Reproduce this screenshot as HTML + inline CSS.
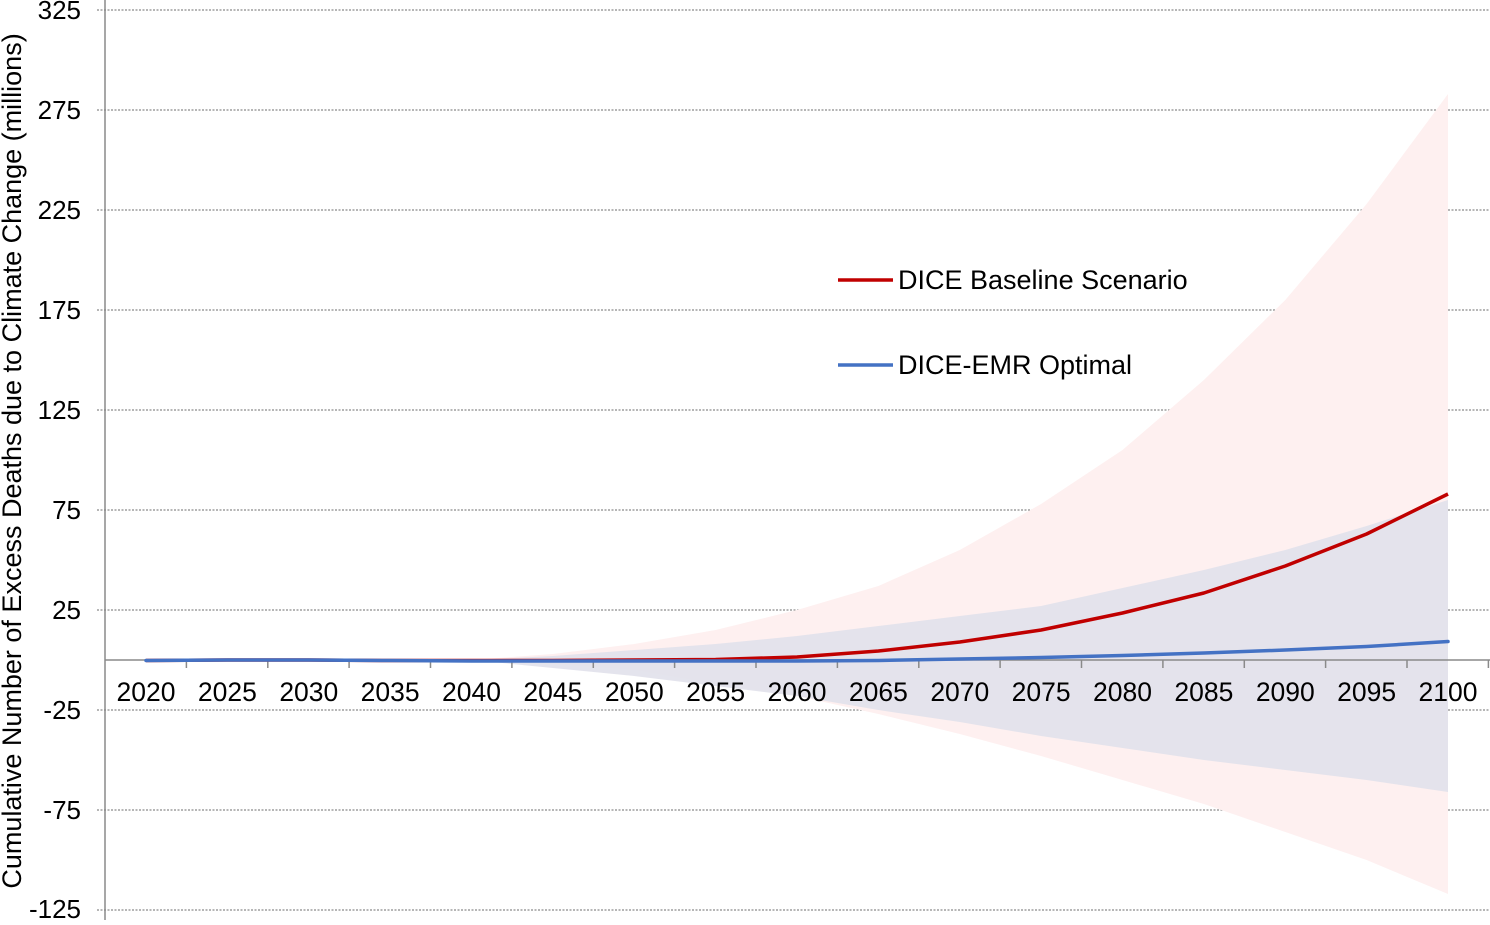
<!DOCTYPE html>
<html><head><meta charset="utf-8"><style>body{margin:0;background:#fff}</style></head>
<body>
<svg width="1490" height="920" xmlns="http://www.w3.org/2000/svg" font-family="Liberation Sans, Arial, sans-serif">
<rect width="1490" height="920" fill="#fff"/>
<g stroke="#8a8a8a" stroke-width="1.2" stroke-dasharray="2,1.5">
<line x1="97" y1="10" x2="1490" y2="10"/><line x1="97" y1="110" x2="1490" y2="110"/>
<line x1="97" y1="210" x2="1490" y2="210"/><line x1="97" y1="310" x2="1490" y2="310"/>
<line x1="97" y1="410" x2="1490" y2="410"/><line x1="97" y1="510" x2="1490" y2="510"/>
<line x1="97" y1="610" x2="1490" y2="610"/><line x1="97" y1="710" x2="1490" y2="710"/>
<line x1="97" y1="810" x2="1490" y2="810"/><line x1="97" y1="910" x2="1490" y2="910"/>
</g>
<polygon fill="#fef0f0" points="471.5,660 552.9,654 634.3,644 715.6,630 797,610 878.4,586 959.8,550 1041.1,504 1122.5,450 1203.9,380 1285.3,300 1366.6,204 1448,94 1448,894 1366.6,860 1285.3,832 1203.9,804 1122.5,780 1041.1,756 959.8,734 878.4,714 797,696 715.6,684 634.3,670 552.9,664"/>
<polygon fill="#e2e2ec" fill-opacity="0.92" points="471.5,660 552.9,656 634.3,650 715.6,644 797,636 878.4,626 959.8,616 1041.1,606 1122.5,588 1203.9,570 1285.3,550 1366.6,526 1448,500 1448,792 1366.6,780 1285.3,770 1203.9,760 1122.5,748 1041.1,736 959.8,722 878.4,710 797,696 715.6,686 634.3,676 552.9,668"/>
<line x1="105" y1="0" x2="105" y2="920" stroke="#8a8a8a" stroke-width="1.5"/>
<line x1="105" y1="660" x2="1490" y2="660" stroke="#8a8a8a" stroke-width="1.5"/>
<g stroke="#8a8a8a" stroke-width="1.5">
<line x1="186.4" y1="660" x2="186.4" y2="668"/><line x1="267.8" y1="660" x2="267.8" y2="668"/><line x1="349.1" y1="660" x2="349.1" y2="668"/><line x1="430.5" y1="660" x2="430.5" y2="668"/><line x1="511.9" y1="660" x2="511.9" y2="668"/><line x1="593.3" y1="660" x2="593.3" y2="668"/><line x1="674.6" y1="660" x2="674.6" y2="668"/><line x1="756" y1="660" x2="756" y2="668"/><line x1="837.4" y1="660" x2="837.4" y2="668"/><line x1="918.8" y1="660" x2="918.8" y2="668"/><line x1="1000.1" y1="660" x2="1000.1" y2="668"/><line x1="1081.5" y1="660" x2="1081.5" y2="668"/><line x1="1162.9" y1="660" x2="1162.9" y2="668"/><line x1="1244.3" y1="660" x2="1244.3" y2="668"/><line x1="1325.6" y1="660" x2="1325.6" y2="668"/><line x1="1407" y1="660" x2="1407" y2="668"/><line x1="1488.4" y1="660" x2="1488.4" y2="668"/>
</g>
<polyline fill="none" stroke="#c00000" stroke-width="3.5" stroke-linejoin="round" points="146,660.5 227.4,660 308.8,660 390.1,660.5 471.5,660.5 552.9,660.5 634.3,660 715.6,659.5 797,657 878.4,651 959.8,642 1041.1,630 1122.5,613 1203.9,593 1285.3,566 1366.6,534 1448,494"/>
<polyline fill="none" stroke="#4472c4" stroke-width="3.5" stroke-linejoin="round" stroke-linecap="round" points="146,660.5 227.4,660 308.8,660 390.1,660.5 471.5,661 552.9,661 634.3,661 715.6,661 797,661 878.4,660.5 959.8,659 1041.1,657.5 1122.5,655.5 1203.9,653 1285.3,650 1366.6,646.5 1448,641.5"/>
<g font-size="26" fill="#000" text-anchor="end">
<text x="81" y="19">325</text><text x="81" y="119">275</text><text x="81" y="219">225</text><text x="81" y="319">175</text><text x="81" y="419">125</text><text x="81" y="519">75</text><text x="81" y="619">25</text><text x="81" y="719">-25</text><text x="81" y="819">-75</text><text x="81" y="918">-125</text>
</g>
<g font-size="26.5" fill="#000" text-anchor="middle">
<text x="146" y="701">2020</text><text x="227.4" y="701">2025</text><text x="308.8" y="701">2030</text><text x="390.1" y="701">2035</text><text x="471.5" y="701">2040</text><text x="552.9" y="701">2045</text><text x="634.3" y="701">2050</text><text x="715.6" y="701">2055</text><text x="797" y="701">2060</text><text x="878.4" y="701">2065</text><text x="959.8" y="701">2070</text><text x="1041.1" y="701">2075</text><text x="1122.5" y="701">2080</text><text x="1203.9" y="701">2085</text><text x="1285.3" y="701">2090</text><text x="1366.6" y="701">2095</text><text x="1448" y="701">2100</text>
</g>
<text transform="translate(21,461) rotate(-90)" font-size="27" text-anchor="middle">Cumulative Number of Excess Deaths due to Climate Change (millions)</text>
<line x1="838" y1="280" x2="893" y2="280" stroke="#c00000" stroke-width="3.5"/>
<text x="898" y="289" font-size="27">DICE Baseline Scenario</text>
<line x1="838" y1="365" x2="893" y2="365" stroke="#4472c4" stroke-width="3.5"/>
<text x="898" y="374" font-size="27">DICE-EMR Optimal</text>
</svg>
</body></html>
